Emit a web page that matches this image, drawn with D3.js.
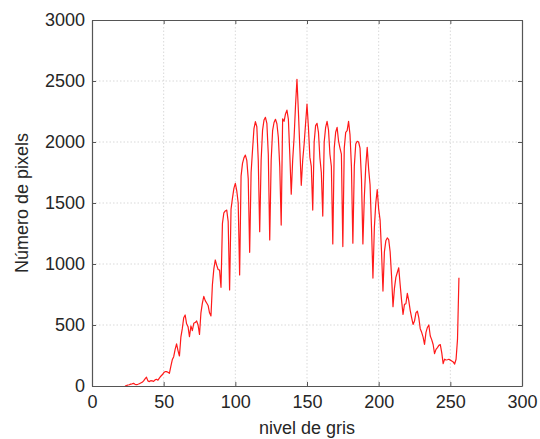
<!DOCTYPE html>
<html>
<head>
<meta charset="utf-8">
<script src="https://cdn.jsdelivr.net/npm/d3@7"></script>
<style>
	body { margin: 0; background: #fff; }
	#graph text { font-family: "Liberation Sans", Arial, sans-serif; fill: #262626; }
</style>
</head>
<body>
<div id="graph"></div>
<script>
// histogram of grey levels (counts per level, starting at firstLevel)
const firstLevel = 23;
const pixelCounts = [
	0, 3, 8, 10, 15, 18, 22, 14, 12, 14,
	18, 24, 30, 42, 58, 72, 42, 36, 44, 42,
	38, 50, 55, 48, 65, 80, 92, 108, 118, 118,
	112, 104, 160, 215, 240, 300, 345, 290, 246, 400,
	470, 560, 582, 510, 486, 404, 492, 454, 514, 520,
	533, 500, 423, 600, 680, 735, 700, 680, 660, 600,
	574, 830, 960, 1033, 990, 955, 950, 809, 1333, 1420,
	1435, 1442, 1350, 787, 1450, 1540, 1620, 1661, 1600, 1500,
	910, 1720, 1825, 1870, 1893, 1850, 1700, 1096, 1750, 1934,
	2110, 2167, 2125, 1850, 1265, 1850, 2098, 2180, 2202, 2153,
	1900, 1197, 1850, 2093, 2160, 2186, 2150, 2039, 1800, 1319,
	2190, 2170, 2230, 2261, 2188, 1900, 1572, 1850, 2039, 2300,
	2514, 2250, 1950, 1645, 1850, 1984, 2150, 2310, 2120, 1876,
	1800, 1442, 2000, 2134, 2153, 2080, 1870, 1750, 1393, 2000,
	2120, 2169, 2100, 1900, 1800, 1165, 1950, 2080, 2120, 2010,
	1950, 1900, 1143, 1950, 2079, 2093, 2169, 2060, 1800, 1170,
	1800, 1984, 2006, 2000, 1950, 1700, 1165, 1550, 1800, 1957,
	1780, 1650, 1300, 885, 1300, 1500, 1610, 1450, 1360, 1100,
	778, 1100, 1190, 1214, 1200, 1100, 900, 650, 800, 890,
	930, 969, 830, 700, 587, 669, 674, 759, 700, 620,
	560, 505, 532, 600, 614, 560, 470, 440, 400, 341,
	440, 480, 500, 410, 380, 340, 265, 300, 315, 333,
	339, 273, 183, 220, 213, 215, 219, 212, 205, 197,
	180, 219, 382, 887
];
const xTicks = [0, 50, 100, 150, 200, 250, 300];
const yTicks = [0, 500, 1000, 1500, 2000, 2500, 3000];
const xLabel = "nivel de gris";
const yLabel = "Número de pixels";

function drawHistogram(fullWidth, fullHeight) {
	const margin = { top: 20, bottom: 53, left: 92, right: 18 };
	const width = fullWidth - margin.left - margin.right;
	const height = fullHeight - margin.top - margin.bottom;

	const svg = d3.select("#graph").append("svg")
		.attr("width", fullWidth)
		.attr("height", fullHeight);

	const g = svg.append("g")
		.attr("transform", "translate(" + margin.left + "," + margin.top + ")");

	const x = d3.scaleLinear().domain([0, 300]).range([0, width]);
	const y = d3.scaleLinear().domain([0, 3000]).range([height, 0]);
	const fmt = d3.format("d");

	// dotted grid
	g.append("g").selectAll("line")
		.data(xTicks.slice(1, -1))
		.enter().append("line")
		.attr("x1", d => x(d)).attr("x2", d => x(d))
		.attr("y1", 0).attr("y2", height)
		.attr("stroke", "#cfcfcf")
		.attr("stroke-width", 0.8)
		.attr("stroke-dasharray", "1.5,2");
	g.append("g").selectAll("line")
		.data(yTicks.slice(1, -1))
		.enter().append("line")
		.attr("y1", d => y(d)).attr("y2", d => y(d))
		.attr("x1", 0).attr("x2", width)
		.attr("stroke", "#cfcfcf")
		.attr("stroke-width", 0.8)
		.attr("stroke-dasharray", "1.5,2");

	// histogram line
	const points = pixelCounts.map((c, i) => [firstLevel + i, c]);
	const line = d3.line()
		.x(d => x(d[0]))
		.y(d => y(d[1]));
	g.append("path")
		.datum(points)
		.attr("fill", "none")
		.attr("stroke", "#ff1a1a")
		.attr("stroke-width", 1.2)
		.attr("stroke-linejoin", "round")
		.attr("d", line);

	// axes with inward ticks (box style)
	const axisColor = "#555";
	const bottom = g.append("g")
		.attr("transform", "translate(0," + height + ")")
		.call(d3.axisBottom(x).tickValues(xTicks).tickFormat(fmt).tickSizeInner(-4).tickSizeOuter(0).tickPadding(9));
	const left = g.append("g")
		.call(d3.axisLeft(y).tickValues(yTicks).tickFormat(fmt).tickSizeInner(-4).tickSizeOuter(0).tickPadding(7));
	const top = g.append("g")
		.call(d3.axisTop(x).tickValues(xTicks).tickSizeInner(-4).tickSizeOuter(0).tickFormat(""));
	const right = g.append("g")
		.attr("transform", "translate(" + width + ",0)")
		.call(d3.axisRight(y).tickValues(yTicks).tickSizeInner(-4).tickSizeOuter(0).tickFormat(""));

	[bottom, left, top, right].forEach(a => {
		a.selectAll("path").attr("stroke", axisColor).attr("stroke-width", 1.2);
		a.selectAll("line").attr("stroke", axisColor);
		a.selectAll("text").attr("font-size", 18).attr("font-family", null);
	});

	// labels
	svg.append("text")
		.attr("x", margin.left + width / 2)
		.attr("y", 434)
		.attr("text-anchor", "middle")
		.attr("font-size", 18)
		.text(xLabel);

	svg.append("text")
		.attr("transform", "translate(28," + (margin.top + height / 2) + ") rotate(-90)")
		.attr("text-anchor", "middle")
		.attr("font-size", 18)
		.text(yLabel);
}

drawHistogram(540, 439);
</script>
</body>
</html>
